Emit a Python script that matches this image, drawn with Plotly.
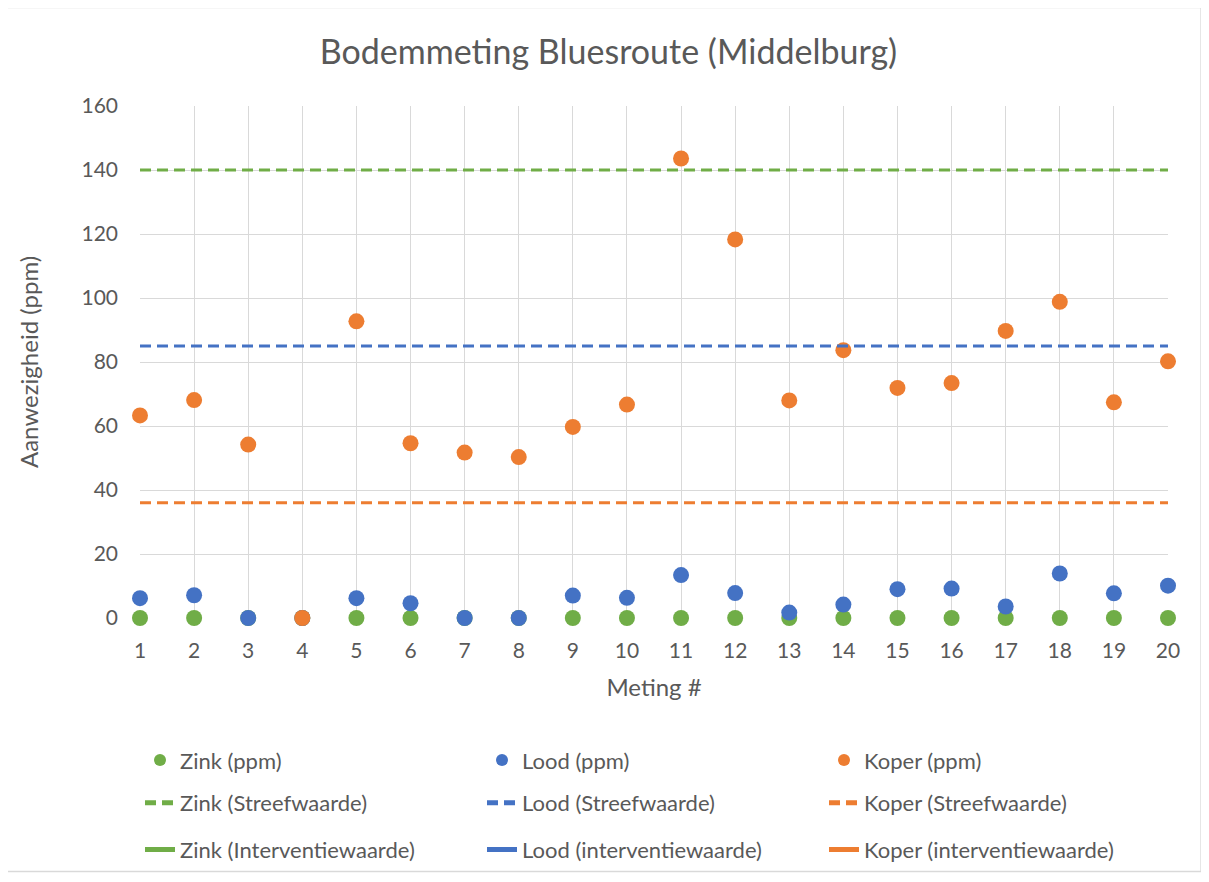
import plotly.graph_objects as go

meting = list(range(1, 21))
zink = [0] * 20
lood = [6.2, 7.1, 0, 0, 6.2, 4.6, 0, 0, 7.0, 6.3,
        13.4, 7.8, 1.7, 4.2, 9.0, 9.2, 3.6, 13.9, 7.7, 10.1]
koper = [63.3, 68.1, 54.2, 0, 92.7, 54.6, 51.7, 50.3, 59.7, 66.7,
         143.6, 118.3, 68.0, 83.7, 71.9, 73.4, 89.7, 98.8, 67.4, 80.2]

streef = {"Zink": 140, "Lood": 85, "Koper": 36}
interventie = {"Zink": 720, "Lood": 530, "Koper": 190}

colors = {"Zink": "#70AD47", "Lood": "#4472C4", "Koper": "#ED7D31"}
FONT = "Lato"
GRAY = "#595959"

# page offset (browser body margin)
OFF = 8
W, H = 1209 - OFF, 882 - OFF
PL, PR, PT, PB = 140 - OFF, 1168 - OFF, 106 - OFF, 621 - OFF
PW, PH = PR - PL, PB - PT

fig = go.Figure()

for name, vals in [("Zink", zink), ("Lood", lood), ("Koper", koper)]:
    fig.add_trace(go.Scatter(
        x=meting, y=vals, mode="markers", name=f"{name} (ppm)",
        marker=dict(color=colors[name], size=16, line=dict(width=0)),
        cliponaxis=False, legend="legend",
    ))

for name in ["Zink", "Lood", "Koper"]:
    fig.add_trace(go.Scatter(
        x=meting, y=[streef[name]] * len(meting), mode="lines",
        name=f"{name} (Streefwaarde)",
        line=dict(color=colors[name], width=3, dash="11px,6px"),
        legend="legend2",
    ))

interv_labels = {"Zink": "Zink (Interventiewaarde)",
                 "Lood": "Lood (interventiewaarde)",
                 "Koper": "Koper (interventiewaarde)"}
for name in ["Zink", "Lood", "Koper"]:
    fig.add_trace(go.Scatter(
        x=meting, y=[interventie[name]] * len(meting), mode="lines",
        name=interv_labels[name],
        line=dict(color=colors[name], width=3),
        legend="legend3",
    ))

leg_common = dict(orientation="h", xanchor="left", yanchor="middle",
                  entrywidth=297, entrywidthmode="pixels",
                  font=dict(family=FONT, size=22, color=GRAY),
                  bgcolor="rgba(0,0,0,0)", itemsizing="constant",
                  traceorder="normal")

def px_x(px):
    return (px - OFF - PL) / PW

def px_y(py):
    return (PB - (py - OFF)) / PH

LX = px_x(140)

fig.update_layout(
    width=W, height=H,
    margin=dict(l=PL, r=W - PR, t=PT, b=H - PB),
    paper_bgcolor="white", plot_bgcolor="white",
    title=dict(text="Bodemmeting Bluesroute (Middelburg)",
               x=0.5, xanchor="center", y=1 - (52 - OFF) / H, yanchor="middle",
               font=dict(family=FONT, size=34, color=GRAY)),
    font=dict(family=FONT, color=GRAY),
    xaxis=dict(range=[1, 20], tickmode="linear", tick0=1, dtick=1,
               showgrid=True, gridcolor="#D9D9D9", gridwidth=1.3,
               zeroline=False, showline=False, ticks="",
               tickfont=dict(family=FONT, size=21, color=GRAY),
               ticklabelstandoff=18,
               title=dict(text="Meting #", standoff=18,
                          font=dict(family=FONT, size=24, color=GRAY))),
    yaxis=dict(range=[0, 160], tickmode="linear", tick0=0, dtick=20,
               showgrid=True, gridcolor="#D9D9D9", gridwidth=1.3,
               zeroline=False, showline=False, ticks="",
               tickfont=dict(family=FONT, size=21, color=GRAY),
               ticklabelstandoff=21,
               title=dict(text="Aanwezigheid (ppm)", standoff=36,
                          font=dict(family=FONT, size=24, color=GRAY))),
    legend=dict(x=LX, y=px_y(764), **leg_common),
    legend2=dict(x=LX, y=px_y(807), **leg_common),
    legend3=dict(x=LX, y=px_y(854), **leg_common),
    showlegend=True,
    shapes=[dict(type="rect", xref="paper", yref="paper",
                 x0=px_x(7), x1=px_x(1201),
                 y0=px_y(876), y1=px_y(7),
                 line=dict(color="#D9D9D9", width=1.3), layer="below")],
)

fig.write_html("out.html")
